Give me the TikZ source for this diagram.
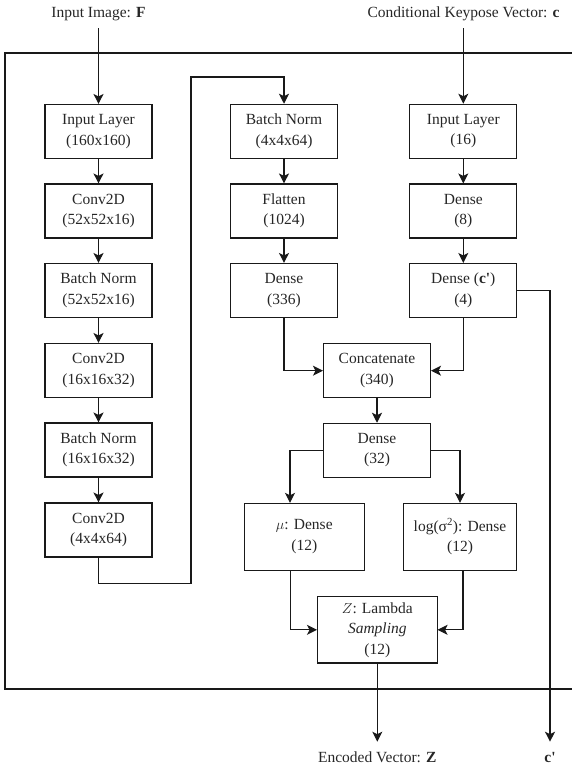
\documentclass[tikz,border=0pt]{standalone}
\usepackage{fontspec}
\setmainfont{Liberation Serif}
\usetikzlibrary{arrows.meta,calc}
\begin{document}
\begin{tikzpicture}[x=1pt,y=-1pt,
  every node/.style={text=black!85},
  box/.style={draw=black!90, line width=1.1pt, minimum width=107pt, minimum height=54pt,
    align=center, inner sep=0pt, font=\fontsize{15.5}{20.5}\selectfont},
  lbl/.style={font=\fontsize{15.5}{19}\selectfont, inner sep=0pt},
  conn/.style={draw=black!90, line width=1.1pt, -{Stealth[length=10pt,width=10pt,inset=2.5pt]}},
  wire/.style={draw=black!90, line width=1.1pt}]
\useasboundingbox (0,0) rectangle (571,771);
% frame
\draw[wire] (580,53) -- (5,53) -- (5,689) -- (580,689);
% labels
\node[lbl] (lF) at (98.5,14) {Input Image: \textbf{F}};
\node[lbl] (lc) at (463.5,14) {Conditional Keypose Vector: \textbf{c}};
\coordinate (tF) at (98.5,28);
\coordinate (tc) at (463.3,28);
% left column
\node[box] (in1) at (98.5,131.5) {Input Layer\\(160x160)};
\node[box] (conv1) at (98.5,211) {Conv2D\\(52x52x16)};
\node[box] (bn1) at (98.5,290.5) {Batch Norm\\(52x52x16)};
\node[box] (conv2) at (98.5,370.5) {Conv2D\\(16x16x32)};
\node[box] (bn2) at (98.5,450) {Batch Norm\\(16x16x32)};
\node[box] (conv3) at (98.5,530) {Conv2D\\(4x4x64)};
% middle column
\node[box] (bn3) at (284,131.3) {Batch Norm\\(4x4x64)};
\node[box] (flat) at (284,211) {Flatten\\(1024)};
\node[box] (d336) at (284,290.5) {Dense\\(336)};
% right column
\node[box] (inc) at (463.3,131.3) {Input Layer\\(16)};
\node[box] (d8) at (463.3,211) {Dense\\(8)};
\node[box] (dc) at (463.3,290.5) {Dense (\textbf{c\textquotesingle})\\(4)};
% merge
\node[box] (cat) at (377,370.7) {Concatenate\\(340)};
\node[box] (d32) at (377,450.3) {Dense\\(32)};
\node[box, minimum width=120pt, minimum height=66.7pt] (mu) at (304.3,536.7) {$\mu$: Dense\\(12)};
\node[box, minimum width=113pt, minimum height=66.7pt] (lg) at (460,536.7) {log(σ\textsuperscript{2}): Dense\\(12)};
\node[box, minimum width=119.5pt, minimum height=66.3pt] (z) at (377.3,629.8) {$Z$: Lambda\\\textit{Sampling}\\(12)};
% outputs
\coordinate (zo) at (377.3,741.7);
\coordinate (co) at (550,741.7);
\node[lbl] (lz) at (377.3,757) {Encoded Vector: \textbf{Z}};
\node[lbl] (lcp) at (550,757) {\textbf{c\textquotesingle}};
% connectors
\draw[conn] (tF) -- (in1);
\draw[conn] (tc) -- (inc);
\draw[conn] (in1) -- (conv1);
\draw[conn] (conv1) -- (bn1);
\draw[conn] (bn1) -- (conv2);
\draw[conn] (conv2) -- (bn2);
\draw[conn] (bn2) -- (conv3);
\draw[conn] (conv3.south) -- (98.5,583.3) -- (191,583.3) -- (191,77) -- (284,77) -- (bn3.north);
\draw[conn] (bn3) -- (flat);
\draw[conn] (flat) -- (d336);
\draw[conn] (inc) -- (d8);
\draw[conn] (d8) -- (dc);
\draw[conn] (d336.south) |- (cat.west);
\draw[conn] (dc.south) |- (cat.east);
\draw[conn] (dc.east) -| (co);
\draw[conn] (cat) -- (d32);
\draw[conn] (d32.west) -| ([xshift=-14.3pt]mu.north);
\draw[conn] (d32.east) -| (lg.north);
\draw[conn] ([xshift=-14pt]mu.south) |- (z.west);
\draw[conn] ([xshift=3pt]lg.south) |- (z.east);
\draw[conn] (z.south) -- (zo);
\end{tikzpicture}
\end{document}
